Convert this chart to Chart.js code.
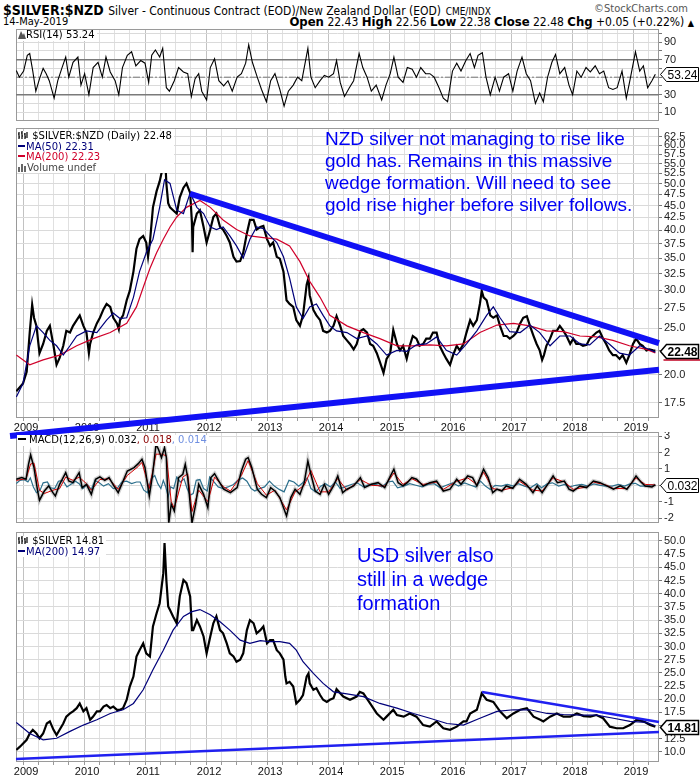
<!DOCTYPE html>
<html><head><meta charset="utf-8">
<script src="https://cdn.jsdelivr.net/npm/chart.js@4.4.1/dist/chart.umd.min.js"></script>
<style>
body{margin:0;background:#fff;width:700px;height:780px;position:relative;overflow:hidden;font-family:'Liberation Sans',Arial,sans-serif;}
canvas{position:absolute;left:0;}
.lg{position:absolute;font-family:'DejaVu Sans',sans-serif;font-size:10px;line-height:10.5px;background:#fff;padding:0 2px 0 1px;white-space:nowrap;z-index:5;color:#000;}
.note{position:absolute;color:#0000f5;font-family:'Liberation Sans',Arial,sans-serif;z-index:5;white-space:nowrap;}
.hd{position:absolute;white-space:nowrap;font-family:'Liberation Sans Narrow','DejaVu Sans Condensed','Liberation Sans',sans-serif;color:#000;z-index:5;}
.dash{display:inline-block;width:7px;height:2px;vertical-align:middle;margin-right:1px;position:relative;top:-1px;}
</style></head><body>

<div class="hd" style="left:3px;top:0px;"><b style="font-size:14px;">$SILVER:$NZD</b> <span style="font-size:12px;">Silver - Continuous Contract (EOD)/New Zealand Dollar (EOD)</span> <span style="font-size:10px;">CME/INDX</span></div>
<div class="hd" style="right:12px;top:2px;font-size:11px;color:#555;">&copy;StockCharts.com</div>
<div class="hd" style="left:3px;top:15px;font-size:11px;">14-May-2019</div>
<div class="hd" style="right:6px;top:14px;font-size:12px;"><b style="font-size:13px;">Open</b> 22.43 <b style="font-size:13px;">High</b> 22.56 <b style="font-size:13px;">Low</b> 22.38 <b style="font-size:13px;">Close</b> 22.48 <b style="font-size:13px;">Chg</b> +0.05 (+0.22%) <span style="font-size:9px;">&#9650;</span></div>

<canvas id="cRsi" width="700" height="92" style="top:29px;z-index:1;"></canvas>
<canvas id="cMacd" width="700" height="91" style="top:432px;z-index:1;"></canvas>
<canvas id="cMain" width="700" height="312" style="top:128px;z-index:2;"></canvas>
<canvas id="cUsd" width="700" height="248" style="top:532px;z-index:1;"></canvas>

<div class="lg" style="left:17px;top:30px;"><svg width="8" height="9" style="vertical-align:-1px"><path d="M0 9 L3 1 L5 5 L6 3 L8 9 Z" fill="#555"/></svg>RSI(14) 53.24</div>

<div class="lg" style="left:17px;top:131px;">
<div><svg width="11" height="9" style="vertical-align:-1px"><path d="M1 1v7M0 3h1M1 6h1M4 0v8M3 2h1M4 5h1M7 2v6M6 3h1M7 6h1M9 1v6" stroke="#000" stroke-width="1.2" fill="none"/></svg> $SILVER:$NZD (Daily) 22.48</div>
<div style="color:#00007a;"><span class="dash" style="background:#00007a"></span>MA(50) 22.31</div>
<div style="color:#d0002a;"><span class="dash" style="background:#d0002a"></span>MA(200) 22.23</div>
<div style="color:#444;"><svg width="9" height="9" style="vertical-align:-1px"><path d="M0 9V4h2v5zM3 9V1h2v8zM6 9V3h2v6z" fill="#666"/></svg>Volume undef</div>
</div>

<div class="lg" style="left:17px;top:435px;"><span class="dash" style="background:#000;width:8px;margin-right:3px;"></span>MACD(12,26,9) 0.032<span style="color:#8b0000">, 0.018</span><span style="color:#6f8fe0">, 0.014</span></div>

<div class="lg" style="left:17px;top:536px;">
<div><svg width="11" height="9" style="vertical-align:-1px"><path d="M1 1v7M0 3h1M1 6h1M4 0v8M3 2h1M4 5h1M7 2v6M6 3h1M7 6h1M9 1v6" stroke="#000" stroke-width="1.2" fill="none"/></svg> $SILVER 14.81</div>
<div style="color:#00007a;"><span class="dash" style="background:#00007a"></span>MA(200) 14.97</div>
</div>

<div class="note" style="left:325px;top:128px;font-size:19px;line-height:22px;">NZD silver not managing to rise like<br>gold has. Remains in this massive<br>wedge formation. Will need to see<br>gold rise higher before silver follows.</div>
<div class="note" style="left:357px;top:543px;font-size:20px;line-height:24px;">USD silver also<br>still in a wedge<br>formation</div>

<script>
// ---------------- DATA ----------------
const X_MIN = 2008.885, X_MAX = 2019.426;
const yearTicks = [2009,2010,2011,2012,2013,2014,2015,2016,2017,2018,2019];
const rsiGrid = [10,20,30,40,50,60,70,80,90,100];
const rsiTickLabels = [10,30,70,90];
const rsiLevels = [30,70];
const rsiMid = 50;
const priceTicks = [17.5,20,22.5,25,27.5,30,32.5,35,37.5,40,42.5,45,47.5,50,52.5,55,57.5,60,62.5];
const macdTicks = [-2,-1,0,1,2,3];
const usdTicks = [10,12.5,15,17.5,20,22.5,25,27.5,30,32.5,35,37.5,40,42.5,45,47.5,50];

const rsi14 = [[2008.89,57.6],[2008.94,50],[2009.01,57],[2009.07,75],[2009.11,77],[2009.16,57],[2009.21,34],[2009.27,48],[2009.33,60],[2009.38,54],[2009.43,46],[2009.51,26],[2009.57,46],[2009.64,61],[2009.70,73],[2009.75,50],[2009.82,67],[2009.90,73],[2009.95,41],[2010.01,54],[2010.08,30],[2010.15,61],[2010.23,67],[2010.30,50],[2010.36,73],[2010.43,56],[2010.51,46],[2010.57,30],[2010.63,61],[2010.71,75],[2010.78,79],[2010.85,63],[2010.93,69],[2011.0,66],[2011.06,44],[2011.11,75],[2011.17,81],[2011.24,73],[2011.29,83],[2011.35,38],[2011.40,34],[2011.48,46],[2011.55,61],[2011.63,56],[2011.70,54],[2011.76,28],[2011.82,48],[2011.88,54],[2011.93,34],[2012.01,24],[2012.07,61],[2012.14,71],[2012.21,46],[2012.29,40],[2012.36,46],[2012.43,34],[2012.51,50],[2012.58,54],[2012.65,66],[2012.70,87],[2012.76,67],[2012.84,50],[2012.91,36],[2012.99,22],[2013.06,46],[2013.13,54],[2013.21,36],[2013.28,17],[2013.35,34],[2013.43,41],[2013.50,50],[2013.57,46],[2013.67,83],[2013.72,50],[2013.79,38],[2013.87,46],[2013.94,52],[2014.01,50],[2014.09,54],[2014.14,69],[2014.20,44],[2014.27,28],[2014.35,38],[2014.42,46],[2014.51,77],[2014.57,61],[2014.64,50],[2014.71,34],[2014.79,41],[2014.88,24],[2014.95,41],[2015.02,54],[2015.08,73],[2015.15,50],[2015.23,44],[2015.30,61],[2015.38,59],[2015.45,50],[2015.52,61],[2015.60,54],[2015.67,54],[2015.74,50],[2015.82,38],[2015.89,26],[2015.96,22],[2016.04,57],[2016.11,66],[2016.18,57],[2016.26,69],[2016.33,77],[2016.40,61],[2016.46,75],[2016.53,78],[2016.59,50],[2016.66,30],[2016.74,50],[2016.81,34],[2016.88,50],[2016.96,54],[2017.03,34],[2017.10,57],[2017.18,73],[2017.25,54],[2017.32,46],[2017.40,20],[2017.47,32],[2017.53,22],[2017.60,50],[2017.67,67],[2017.73,76],[2017.80,54],[2017.88,61],[2017.95,41],[2018.01,30],[2018.08,57],[2018.15,50],[2018.23,61],[2018.30,56],[2018.38,63],[2018.45,54],[2018.52,57],[2018.60,38],[2018.67,36],[2018.74,38],[2018.82,57],[2018.89,26],[2018.96,50],[2019.04,79],[2019.11,57],[2019.17,63],[2019.24,38],[2019.31,46],[2019.366,53.24]];

const nzdClose = [[2008.89,18.5],[2009.0,19.2],[2009.06,20.3],[2009.11,24.5],[2009.15,28.0],[2009.18,26.3],[2009.22,25.3],[2009.27,22.2],[2009.33,23.2],[2009.39,24.7],[2009.44,25.3],[2009.5,23.0],[2009.55,21.0],[2009.6,21.7],[2009.66,23.0],[2009.71,24.7],[2009.77,24.5],[2009.82,25.3],[2009.88,26.0],[2009.93,26.6],[2009.99,25.3],[2010.04,24.5],[2010.08,22.2],[2010.1,23.2],[2010.15,24.5],[2010.21,25.6],[2010.26,26.3],[2010.32,27.4],[2010.37,28.1],[2010.43,27.7],[2010.48,26.3],[2010.54,25.6],[2010.57,24.9],[2010.59,26.0],[2010.64,26.6],[2010.7,28.6],[2010.75,29.9],[2010.81,32.8],[2010.86,36.6],[2010.91,38.3],[2010.97,38.9],[2011.02,37.7],[2011.05,35.2],[2011.08,37.7],[2011.13,44.6],[2011.19,48.2],[2011.24,50.5],[2011.3,54.6],[2011.32,60.0],[2011.35,50.0],[2011.38,45.5],[2011.41,44.6],[2011.46,44.0],[2011.52,43.3],[2011.57,46.8],[2011.63,49.0],[2011.68,50.0],[2011.74,47.8],[2011.77,41.4],[2011.78,36.0],[2011.79,40.6],[2011.85,43.3],[2011.9,44.0],[2011.96,40.6],[2012.01,37.7],[2012.07,40.1],[2012.12,42.6],[2012.17,43.3],[2012.23,40.6],[2012.28,40.1],[2012.34,38.9],[2012.39,37.7],[2012.45,35.2],[2012.5,34.4],[2012.56,34.5],[2012.61,35.9],[2012.67,39.4],[2012.72,42.0],[2012.78,42.0],[2012.83,40.1],[2012.89,40.6],[2012.94,40.8],[2013.0,38.3],[2013.05,37.1],[2013.1,37.7],[2013.16,35.2],[2013.21,34.9],[2013.27,32.8],[2013.32,28.6],[2013.37,28.1],[2013.43,27.7],[2013.48,26.0],[2013.54,25.3],[2013.59,26.6],[2013.65,30.8],[2013.68,31.8],[2013.7,29.3],[2013.76,27.3],[2013.81,26.6],[2013.87,26.0],[2013.92,24.7],[2013.98,24.5],[2014.03,24.7],[2014.09,25.3],[2014.14,26.5],[2014.2,25.3],[2014.25,24.1],[2014.31,23.6],[2014.36,23.2],[2014.42,22.6],[2014.47,23.2],[2014.53,24.7],[2014.58,24.9],[2014.64,24.5],[2014.69,23.2],[2014.74,23.0],[2014.8,22.2],[2014.85,21.3],[2014.91,20.2],[2014.96,21.6],[2015.02,22.2],[2015.07,24.8],[2015.13,23.2],[2015.18,22.5],[2015.23,23.0],[2015.29,21.6],[2015.34,23.0],[2015.39,24.1],[2015.45,23.8],[2015.5,23.0],[2015.56,23.2],[2015.61,23.8],[2015.67,23.8],[2015.72,24.5],[2015.78,24.5],[2015.83,23.0],[2015.89,22.2],[2015.94,21.6],[2016.0,21.0],[2016.05,22.0],[2016.11,23.0],[2016.16,22.5],[2016.22,23.2],[2016.27,24.5],[2016.33,26.0],[2016.38,25.3],[2016.44,26.0],[2016.49,28.1],[2016.52,29.9],[2016.55,29.0],[2016.6,28.6],[2016.66,26.6],[2016.71,26.3],[2016.77,26.6],[2016.82,25.3],[2016.88,24.1],[2016.93,24.1],[2016.98,23.8],[2017.04,24.1],[2017.09,24.5],[2017.15,25.6],[2017.2,26.3],[2017.26,26.5],[2017.31,25.3],[2017.37,24.1],[2017.42,23.2],[2017.47,22.5],[2017.51,21.5],[2017.54,22.0],[2017.58,23.0],[2017.64,23.8],[2017.69,24.7],[2017.75,24.7],[2017.8,25.3],[2017.86,24.7],[2017.91,24.1],[2017.97,23.2],[2018.02,23.8],[2018.07,23.2],[2018.13,23.2],[2018.18,23.0],[2018.24,23.1],[2018.29,23.8],[2018.34,24.1],[2018.4,24.5],[2018.45,24.7],[2018.51,23.8],[2018.56,23.2],[2018.61,22.5],[2018.67,22.0],[2018.72,22.0],[2018.78,21.6],[2018.83,22.0],[2018.89,21.2],[2018.94,22.0],[2019.0,23.2],[2019.05,23.8],[2019.11,23.2],[2019.16,23.0],[2019.22,22.5],[2019.27,22.6],[2019.33,22.5],[2019.366,22.48]];

const nzdMa50 = [[2008.89,18.0],[2009.0,19.2],[2009.11,23.0],[2009.22,25.3],[2009.33,24.5],[2009.44,23.6],[2009.55,23.0],[2009.66,22.0],[2009.77,23.0],[2009.88,24.1],[2010.04,24.7],[2010.21,24.5],[2010.37,26.0],[2010.48,26.9],[2010.59,26.2],[2010.7,26.3],[2010.81,29.0],[2010.91,32.8],[2011.02,35.9],[2011.13,38.3],[2011.24,44.6],[2011.32,50.9],[2011.41,50.0],[2011.52,44.0],[2011.63,43.3],[2011.74,47.8],[2011.85,44.6],[2011.96,43.3],[2012.07,40.6],[2012.17,40.1],[2012.28,40.6],[2012.39,38.9],[2012.5,37.1],[2012.61,35.0],[2012.72,38.3],[2012.83,40.6],[2012.94,40.3],[2013.05,38.9],[2013.16,37.7],[2013.27,35.2],[2013.37,31.8],[2013.48,27.7],[2013.59,26.2],[2013.7,27.7],[2013.81,28.1],[2013.92,26.6],[2014.03,25.3],[2014.14,24.7],[2014.31,24.5],[2014.47,23.8],[2014.64,24.1],[2014.8,23.2],[2014.96,22.0],[2015.13,22.5],[2015.29,22.4],[2015.45,23.1],[2015.61,23.2],[2015.78,24.0],[2015.94,22.5],[2016.11,22.0],[2016.27,23.2],[2016.44,24.7],[2016.6,26.6],[2016.71,27.7],[2016.82,26.3],[2016.98,24.6],[2017.15,24.5],[2017.31,25.4],[2017.47,24.5],[2017.64,23.0],[2017.8,24.1],[2017.97,24.1],[2018.13,23.2],[2018.29,23.1],[2018.45,24.1],[2018.61,23.2],[2018.78,22.2],[2018.94,22.0],[2019.11,23.0],[2019.27,22.6],[2019.366,22.31]];

const nzdMa200 = [[2008.89,22.0],[2009.11,21.0],[2009.33,21.5],[2009.6,22.0],[2009.88,23.0],[2010.15,23.8],[2010.43,24.5],[2010.7,25.6],[2010.86,27.7],[2010.97,30.4],[2011.08,33.3],[2011.19,35.9],[2011.3,38.3],[2011.41,40.6],[2011.52,42.6],[2011.68,44.6],[2011.9,46.1],[2012.07,44.6],[2012.28,42.0],[2012.5,40.1],[2012.72,38.9],[2012.94,38.6],[2013.16,38.3],[2013.37,37.1],[2013.54,34.4],[2013.7,31.3],[2013.87,29.0],[2014.03,26.6],[2014.31,25.3],[2014.58,24.5],[2014.85,23.8],[2015.13,23.0],[2015.39,23.0],[2015.67,23.1],[2015.94,23.0],[2016.22,23.2],[2016.49,24.5],[2016.77,25.4],[2017.04,25.6],[2017.31,25.3],[2017.58,24.7],[2017.86,24.6],[2018.13,24.1],[2018.4,24.0],[2018.67,23.6],[2018.94,23.0],[2019.22,22.6],[2019.366,22.23]];

const nzdWedgeUpper = [[2011.74,47.6],[2019.426,23.3]];
const nzdWedgeLower = [[2008.787,14.94],[2019.426,20.5]];

const macdLine = [[2008.89,0.37],[2008.98,0.47],[2009.05,0.37],[2009.09,1.28],[2009.125,1.85],[2009.18,1.08],[2009.24,-0.35],[2009.27,-0.91],[2009.35,-0.35],[2009.42,-0.04],[2009.49,-0.45],[2009.53,-0.65],[2009.60,0.06],[2009.70,0.77],[2009.75,0.26],[2009.82,0.16],[2009.92,0.77],[2009.97,-0.14],[2010.04,0.06],[2010.12,-0.55],[2010.19,0.37],[2010.26,0.51],[2010.34,0.30],[2010.41,0.47],[2010.49,-0.04],[2010.56,-0.45],[2010.63,0.16],[2010.71,0.87],[2010.82,1.08],[2010.89,1.32],[2010.95,1.59],[2011.0,1.08],[2011.07,-0.65],[2011.125,0.67],[2011.18,2.5],[2011.22,2.2],[2011.27,1.69],[2011.32,2.3],[2011.35,1.69],[2011.39,-2.28],[2011.43,-1.16],[2011.48,-1.57],[2011.55,0.47],[2011.62,0.67],[2011.66,1.28],[2011.70,0.47],[2011.77,-2.3],[2011.83,-1.16],[2011.88,0.06],[2011.96,-0.55],[2012.03,-1.36],[2012.08,0.47],[2012.14,0.71],[2012.21,0.26],[2012.29,-0.24],[2012.40,-0.45],[2012.51,-0.14],[2012.58,0.87],[2012.65,1.59],[2012.69,1.69],[2012.75,1.08],[2012.84,-0.24],[2012.91,-0.55],[2012.99,-0.75],[2013.06,-0.14],[2013.13,-0.35],[2013.21,-0.75],[2013.32,-1.87],[2013.39,-0.75],[2013.46,-0.24],[2013.54,-0.55],[2013.61,0.16],[2013.67,1.48],[2013.72,0.67],[2013.79,-0.35],[2013.87,-0.55],[2013.94,0.06],[2014.01,-0.55],[2014.09,-0.04],[2014.16,0.57],[2014.24,-0.45],[2014.31,-0.24],[2014.42,-0.04],[2014.53,0.47],[2014.60,-0.14],[2014.71,0.06],[2014.82,0.16],[2014.93,-0.14],[2015.01,0.47],[2015.08,0.98],[2015.15,0.16],[2015.23,-0.04],[2015.30,0.16],[2015.375,0.47],[2015.45,0.37],[2015.56,-0.04],[2015.67,0.16],[2015.78,0.26],[2015.89,-0.35],[2016.0,-0.24],[2016.11,0.37],[2016.18,0.06],[2016.29,0.57],[2016.37,0.47],[2016.44,-0.04],[2016.55,0.98],[2016.625,0.47],[2016.70,-0.45],[2016.77,-0.24],[2016.85,-0.35],[2016.92,-0.04],[2017.03,-0.18],[2017.14,0.37],[2017.25,0.06],[2017.36,-0.45],[2017.43,-0.04],[2017.51,-0.45],[2017.62,0.16],[2017.69,0.57],[2017.76,0.16],[2017.875,0.26],[2017.95,-0.24],[2018.02,-0.35],[2018.13,-0.04],[2018.24,-0.14],[2018.35,0.26],[2018.46,0.16],[2018.57,-0.04],[2018.68,-0.24],[2018.79,-0.04],[2018.90,-0.24],[2018.98,0.16],[2019.05,0.57],[2019.125,0.22],[2019.20,-0.04],[2019.31,-0.10],[2019.366,0.032]];

const macdSignal = [[2008.89,0.30],[2009.05,0.40],[2009.125,1.3],[2009.18,1.35],[2009.27,-0.3],[2009.35,-0.5],[2009.49,-0.3],[2009.60,-0.2],[2009.70,0.5],[2009.82,0.3],[2009.92,0.5],[2010.04,0.1],[2010.12,-0.3],[2010.26,0.35],[2010.41,0.4],[2010.56,-0.25],[2010.71,0.6],[2010.89,1.15],[2010.95,1.4],[2011.07,-0.2],[2011.18,1.9],[2011.27,1.9],[2011.35,1.8],[2011.43,-1.0],[2011.48,-1.4],[2011.62,0.5],[2011.70,0.7],[2011.77,-1.6],[2011.88,-0.3],[2012.03,-1.0],[2012.14,0.5],[2012.29,-0.1],[2012.40,-0.35],[2012.58,0.6],[2012.69,1.5],[2012.84,0.1],[2012.99,-0.6],[2013.13,-0.3],[2013.32,-1.5],[2013.46,-0.4],[2013.61,0.0],[2013.72,0.9],[2013.87,-0.4],[2014.01,-0.4],[2014.16,0.4],[2014.31,-0.3],[2014.53,0.35],[2014.71,0.0],[2014.93,-0.05],[2015.08,0.75],[2015.23,0.05],[2015.375,0.4],[2015.56,0.05],[2015.78,0.2],[2015.89,-0.25],[2016.11,0.25],[2016.29,0.45],[2016.44,0.05],[2016.55,0.8],[2016.70,-0.2],[2016.85,-0.3],[2017.03,-0.15],[2017.14,0.25],[2017.36,-0.3],[2017.51,-0.35],[2017.69,0.45],[2017.875,0.2],[2018.02,-0.25],[2018.24,-0.1],[2018.35,0.2],[2018.57,0.0],[2018.68,-0.2],[2018.90,-0.2],[2019.05,0.45],[2019.20,0.05],[2019.366,0.018]];

const macdHist = [[2008.89,0.1],[2008.95,0.3],[2009.02,0.35],[2009.08,0.2],[2009.12,0.45],[2009.17,-0.1],[2009.22,-0.45],[2009.28,-0.3],[2009.33,0.15],[2009.4,0.2],[2009.45,-0.15],[2009.52,-0.2],[2009.58,0.25],[2009.65,0.3],[2009.72,-0.1],[2009.78,0.05],[2009.86,0.25],[2009.92,0.1],[2009.98,-0.2],[2010.05,0.05],[2010.12,-0.25],[2010.18,0.3],[2010.25,0.15],[2010.32,-0.05],[2010.4,0.1],[2010.48,-0.2],[2010.55,-0.15],[2010.62,0.2],[2010.7,0.25],[2010.78,0.1],[2010.86,0.2],[2010.92,0.2],[2010.98,-0.3],[2011.04,-0.45],[2011.1,0.4],[2011.16,0.6],[2011.21,0.1],[2011.26,-0.2],[2011.3,0.3],[2011.34,-0.1],[2011.38,-0.7],[2011.42,-0.1],[2011.47,-0.2],[2011.52,0.5],[2011.58,0.2],[2011.64,0.4],[2011.69,-0.2],[2011.74,-0.6],[2011.79,-0.5],[2011.84,0.3],[2011.9,0.35],[2011.96,-0.2],[2012.02,-0.35],[2012.06,0.5],[2012.12,0.25],[2012.2,-0.1],[2012.28,-0.2],[2012.36,-0.1],[2012.45,0.05],[2012.52,0.3],[2012.6,0.45],[2012.67,0.25],[2012.74,-0.2],[2012.8,-0.35],[2012.88,-0.2],[2012.96,-0.1],[2013.04,0.25],[2013.12,-0.05],[2013.2,-0.25],[2013.28,-0.4],[2013.36,0.3],[2013.44,0.2],[2013.52,-0.05],[2013.6,0.2],[2013.66,0.45],[2013.72,-0.2],[2013.8,-0.4],[2013.88,-0.05],[2013.96,0.1],[2014.04,-0.1],[2014.12,0.2],[2014.2,-0.2],[2014.28,-0.1],[2014.38,0.05],[2014.48,0.15],[2014.58,-0.1],[2014.68,0.05],[2014.78,0.05],[2014.88,-0.1],[2014.98,0.2],[2015.06,0.25],[2015.14,-0.15],[2015.24,-0.05],[2015.34,0.1],[2015.44,0.0],[2015.54,-0.1],[2015.64,0.05],[2015.74,0.1],[2015.84,-0.15],[2015.94,0.0],[2016.04,0.15],[2016.14,-0.05],[2016.24,0.15],[2016.34,0.0],[2016.42,-0.1],[2016.5,0.25],[2016.58,-0.05],[2016.66,-0.25],[2016.74,0.0],[2016.84,-0.05],[2016.94,0.05],[2017.04,-0.05],[2017.12,0.1],[2017.22,-0.05],[2017.32,-0.15],[2017.42,0.1],[2017.5,-0.15],[2017.6,0.1],[2017.68,0.15],[2017.78,-0.05],[2017.88,0.05],[2017.96,-0.1],[2018.06,0.0],[2018.16,0.05],[2018.26,-0.05],[2018.36,0.08],[2018.46,0.0],[2018.56,-0.05],[2018.66,-0.05],[2018.76,0.05],[2018.86,-0.05],[2018.96,0.1],[2019.04,0.12],[2019.12,-0.05],[2019.22,-0.05],[2019.3,0.03],[2019.366,0.014]];

const usdClose = [[2008.89,10.4],[2008.95,11.0],[2009.06,12.3],[2009.11,13.5],[2009.16,14.2],[2009.22,13.5],[2009.27,12.6],[2009.33,13.5],[2009.39,15.4],[2009.44,15.8],[2009.5,14.2],[2009.55,13.2],[2009.6,14.2],[2009.66,15.4],[2009.71,16.7],[2009.77,17.3],[2009.82,17.7],[2009.88,18.3],[2009.93,19.2],[2009.99,17.7],[2010.04,18.3],[2010.1,16.1],[2010.15,16.7],[2010.21,17.7],[2010.26,17.7],[2010.32,18.6],[2010.37,18.9],[2010.43,18.3],[2010.48,18.6],[2010.54,18.0],[2010.59,18.0],[2010.64,18.3],[2010.7,19.9],[2010.75,22.4],[2010.81,24.3],[2010.86,28.1],[2010.91,29.3],[2010.97,30.6],[2011.02,28.7],[2011.08,28.1],[2011.13,33.8],[2011.19,36.3],[2011.24,38.2],[2011.3,43.9],[2011.32,49.6],[2011.35,42.6],[2011.38,37.6],[2011.41,36.9],[2011.46,35.7],[2011.52,34.4],[2011.57,39.5],[2011.63,42.6],[2011.68,42.0],[2011.74,39.5],[2011.77,33.1],[2011.79,33.1],[2011.85,35.0],[2011.9,33.8],[2011.96,31.9],[2012.01,28.7],[2012.07,31.9],[2012.12,34.4],[2012.17,35.7],[2012.23,33.1],[2012.28,32.5],[2012.34,30.6],[2012.39,28.7],[2012.45,28.1],[2012.5,27.1],[2012.56,27.5],[2012.61,28.7],[2012.67,33.1],[2012.72,35.0],[2012.78,34.4],[2012.83,32.5],[2012.89,33.1],[2012.94,33.8],[2013.0,30.6],[2013.05,31.2],[2013.1,31.2],[2013.16,29.3],[2013.21,28.7],[2013.27,27.5],[2013.3,24.3],[2013.32,23.0],[2013.37,23.3],[2013.43,22.4],[2013.48,19.2],[2013.54,19.9],[2013.59,20.8],[2013.65,24.3],[2013.68,24.9],[2013.7,23.0],[2013.76,21.8],[2013.81,22.1],[2013.87,20.8],[2013.92,19.9],[2013.98,19.5],[2014.03,19.9],[2014.09,20.2],[2014.14,21.9],[2014.25,20.5],[2014.36,19.9],[2014.47,20.5],[2014.52,21.4],[2014.58,21.1],[2014.69,19.2],[2014.8,17.3],[2014.91,16.1],[2014.96,16.7],[2015.07,18.0],[2015.13,17.0],[2015.24,16.7],[2015.34,17.3],[2015.45,16.7],[2015.56,15.1],[2015.67,14.8],[2015.78,15.8],[2015.89,14.5],[2016.0,14.2],[2016.11,14.8],[2016.22,15.8],[2016.27,15.8],[2016.33,17.3],[2016.44,18.0],[2016.52,21.1],[2016.6,19.9],[2016.71,19.5],[2016.82,17.7],[2016.93,16.4],[2017.04,17.3],[2017.15,18.0],[2017.26,18.3],[2017.37,16.7],[2017.48,16.1],[2017.53,15.8],[2017.64,16.7],[2017.75,17.3],[2017.86,16.7],[2017.97,16.7],[2018.08,17.3],[2018.19,16.8],[2018.3,16.7],[2018.4,17.0],[2018.51,16.4],[2018.62,14.8],[2018.73,14.5],[2018.84,14.5],[2018.95,15.1],[2019.06,16.1],[2019.17,15.8],[2019.28,15.1],[2019.366,14.81]];

const usdMa200 = [[2008.89,15.6],[2009.11,13.5],[2009.33,12.3],[2009.55,12.6],[2009.77,13.9],[2009.99,15.1],[2010.21,16.1],[2010.43,17.3],[2010.64,18.0],[2010.81,19.2],[2010.97,21.8],[2011.13,25.6],[2011.3,29.3],[2011.46,33.1],[2011.63,35.7],[2011.77,36.6],[2011.9,37.0],[2012.07,36.0],[2012.23,34.7],[2012.39,33.1],[2012.56,31.2],[2012.72,30.6],[2012.89,31.1],[2013.05,30.9],[2013.21,30.9],[2013.37,30.6],[2013.48,29.3],[2013.59,27.1],[2013.76,24.9],[2013.92,23.0],[2014.09,21.4],[2014.31,21.0],[2014.58,20.5],[2014.85,19.2],[2015.13,18.3],[2015.4,17.3],[2015.67,16.4],[2015.95,15.4],[2016.22,15.1],[2016.49,16.4],[2016.77,17.7],[2017.04,18.0],[2017.31,18.0],[2017.59,17.3],[2017.86,17.1],[2018.13,17.0],[2018.4,17.0],[2018.68,16.4],[2018.95,15.8],[2019.22,15.6],[2019.366,14.97]];

const usdWedgeUpper = [[2016.525,21.37],[2019.426,15.7]];
const usdWedgeLower = [[2008.885,8.67],[2019.426,13.79]];

// ---------------- HELPERS ----------------
Chart.defaults.font.family = "'Liberation Sans', Arial, sans-serif";
const quarterTicks = [];
yearTicks.forEach(y => [0, 0.25, 0.5, 0.75].forEach(q => { if (y + q <= X_MAX) quarterTicks.push(y + q); }));

function xScale(showLabels) {
  return {
    type: 'linear', min: X_MIN, max: X_MAX,
    afterBuildTicks: s => { s.ticks = quarterTicks.map(v => ({ value: v })); },
    afterFit: s => { s.height = showLabels ? 14 : 0; s.paddingLeft = 0; s.paddingRight = 0; },
    ticks: { display: showLabels, autoSkip: false, maxRotation: 0, minRotation: 0, padding: 0, labelOffset: 3,
      color: '#111', font: { size: 11 }, callback: v => yearTicks.includes(v) ? String(v) : '' },
    grid: { color: c => (c.tick && yearTicks.includes(c.tick.value)) ? '#c2c2c2' : '#e0e0e0',
      drawTicks: showLabels, tickLength: 3, tickColor: '#999' },
    border: { display: false }
  };
}
function yScale(o) {
  return {
    type: o.type || 'linear', position: 'right', min: o.min, max: o.max,
    afterFit: s => { s.width = 41; s.paddingTop = 0; s.paddingBottom = 0; },
    afterBuildTicks: s => { s.ticks = o.ticks.map(v => ({ value: v })); },
    ticks: { autoSkip: false, padding: 2, color: '#222', font: { size: 11 }, callback: o.fmt },
    grid: { color: '#dadada', drawTicks: true, tickLength: 3, tickColor: '#777' },
    border: { display: false }
  };
}
const L = (data, color, width, extra) => Object.assign({
  type: 'line', data: data.map(p => ({ x: p[0], y: p[1] })), borderColor: color, borderWidth: width,
  pointRadius: 0, tension: 0, fill: false
}, extra || {});

const frame = { id: 'frame', beforeDatasetsDraw(c) {
  const a = c.chartArea, x = c.ctx; x.save(); x.strokeStyle = '#9a9a9a'; x.lineWidth = 1;
  x.strokeRect(Math.round(a.left) + 0.5, Math.round(a.top) + 0.5, Math.round(a.width) - 1, Math.round(a.height) - 1); x.restore(); } };
const tag = { id: 'tag', afterDraw(c, args, o) {
  if (!o || o.value == null) return;
  const y = Math.round(c.scales.y.getPixelForValue(o.value)) + 0.5, x0 = Math.round(c.chartArea.right) + 1.5, ctx = c.ctx;
  ctx.save();
  if (o.under) { ctx.strokeStyle = o.under; ctx.lineWidth = 1.5; ctx.beginPath(); ctx.moveTo(x0 + 3, y + 8.5); ctx.lineTo(x0 + 40, y + 8.5); ctx.stroke(); }
  ctx.beginPath(); ctx.moveTo(x0, y); ctx.lineTo(x0 + 6, y - 7); ctx.lineTo(x0 + 38, y - 7); ctx.lineTo(x0 + 38, y + 7); ctx.lineTo(x0 + 6, y + 7); ctx.closePath();
  ctx.fillStyle = '#fff'; ctx.fill(); ctx.strokeStyle = '#000'; ctx.lineWidth = o.bold ? 1.5 : 1; ctx.stroke();
  ctx.fillStyle = '#000'; ctx.font = (o.bold ? 'bold ' : '') + "12px 'Liberation Sans', Arial"; ctx.textBaseline = 'middle';
  ctx.fillText(o.text, x0 + 7, y + 1); ctx.restore(); } };

const base = (pad, tagOpt) => ({
  responsive: false, animation: false, devicePixelRatio: 1,
  layout: { padding: Object.assign({ left: 16, right: 0, top: 0, bottom: 0 }, pad) },
  plugins: { legend: { display: false }, tooltip: { enabled: false }, tag: tagOpt },
  elements: { point: { radius: 0 } }
});

// ---------------- RSI ----------------
new Chart(document.getElementById('cRsi'), {
  type: 'line',
  data: { datasets: [
    L(rsi14, '#000', 1.1),
    L([[X_MIN, rsiLevels[0]], [X_MAX, rsiLevels[0]]], '#7a7a7a', 1.5),
    L([[X_MIN, rsiLevels[1]], [X_MAX, rsiLevels[1]]], '#7a7a7a', 1.5),
    L([[X_MIN, rsiMid], [X_MAX, rsiMid]], '#777', 1, { borderDash: [7, 2, 2, 2] })
  ] },
  options: Object.assign(base({}, { value: 53.24, text: '53.24' }), {
    scales: { x: xScale(false), y: yScale({ min: 0, max: 105, ticks: rsiGrid, fmt: v => rsiTickLabels.includes(v) ? String(v) : '' }) }
  }),
  plugins: [frame, tag]
});

// ---------------- MAIN (NZD) ----------------
new Chart(document.getElementById('cMain'), {
  type: 'line',
  data: { datasets: [
    L(nzdWedgeUpper, '#1111f5', 6, { clip: false }),
    L(nzdWedgeLower, '#1111f5', 6, { clip: false }),
    L(nzdMa50, '#00007a', 1.2),
    L(nzdMa200, '#d0002a', 1.2),
    L(nzdClose, '#000', 2.2)
  ] },
  options: Object.assign(base({ bottom: 8 }, { value: 22.48, text: '22.48', bold: true, under: '#c00020' }), {
    scales: { x: xScale(true), y: yScale({ type: 'logarithmic', min: 16.28, max: 65.2, ticks: priceTicks, fmt: v => v === 22.5 ? '' : Number(v).toFixed(1) }) }
  }),
  plugins: [frame, tag]
});

// ---------------- MACD ----------------
new Chart(document.getElementById('cMacd'), {
  type: 'line',
  data: { datasets: [
    L(macdLine, '#000', 1.5),
    L(macdSignal, '#d00000', 1),
    L(macdHist, '#2c6f8c', 1.2),
    L(macdLine, 'rgba(150,150,150,0.45)', 4)
  ] },
  options: Object.assign(base({}, { value: 0.032, text: '0.032' }), {
    scales: { x: xScale(false), y: yScale({ min: -2.3, max: 3.25, ticks: macdTicks, fmt: v => v === 0 ? '' : String(v) }) }
  }),
  plugins: [frame, tag]
});

// ---------------- USD ----------------
new Chart(document.getElementById('cUsd'), {
  type: 'line',
  data: { datasets: [
    L(usdWedgeUpper, '#2020f0', 2.5, { clip: false }),
    L(usdWedgeLower, '#2020f0', 2.5, { clip: false }),
    L(usdMa200, '#00007a', 1.2),
    L(usdClose, '#000', 2.2)
  ] },
  options: Object.assign(base({ bottom: 4 }, { value: 14.81, text: '14.81', bold: true }), {
    scales: { x: xScale(true), y: yScale({ min: 8.1, max: 51.7, ticks: usdTicks, fmt: v => v === 15 ? '' : Number(v).toFixed(1) }) }
  }),
  plugins: [frame, tag]
});
</script>
</body></html>
